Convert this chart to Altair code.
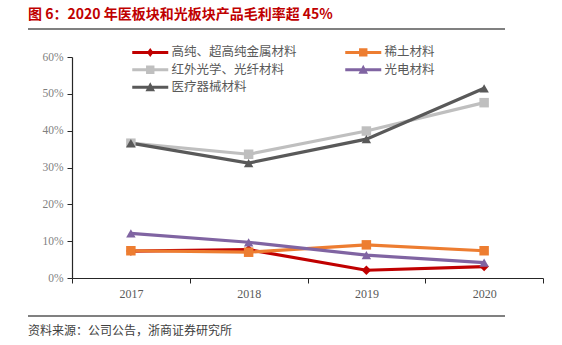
import altair as alt
import pandas as pd

years = ["2017", "2018", "2019", "2020"]
series = ["高纯、超高纯金属材料", "稀土材料", "红外光学、光纤材料", "光电材料", "医疗器械材料"]
gaochun = [0.073, 0.077, 0.021, 0.031]
xitu = [0.074, 0.070, 0.090, 0.074]
hongwai = [0.366, 0.336, 0.399, 0.476]
guangdian = [0.121, 0.097, 0.062, 0.042]
yiliao = [0.366, 0.312, 0.377, 0.515]
values = [gaochun, xitu, hongwai, guangdian, yiliao]

colors = ["#C00000", "#ED7D31", "#BFBFBF", "#8064A2", "#595959"]
shapes = ["diamond", "square", "square", "triangle-up", "triangle-up"]
bar = "M-3,-0.25H3V0.25H-3Z "
legend_shapes = [
    bar + "M0,-0.75L0.55,0L0,0.75L-0.55,0Z",
    bar + "M-0.7,-0.7H0.7V0.7H-0.7Z",
    bar + "M-0.7,-0.7H0.7V0.7H-0.7Z",
    bar + "M0,-0.85L0.8,0.65H-0.8Z",
    bar + "M0,-0.85L0.8,0.65H-0.8Z",
]
# legend is filled column by column: reorder so it reads row by row
legend_order = [0, 2, 4, 1, 3]

title = "图 6：2020 年医板块和光板块产品毛利率超 45%"
source = "资料来源：公司公告，浙商证券研究所"
divider_names = ["top", "bottom"]

rows = []
for s, vals in zip(series, values):
    for y, v in zip(years, vals):
        rows.append({"year": y, "series": s, "value": v})
df = pd.DataFrame(rows)

x_enc = alt.X(
    "year:N",
    title=None,
    scale=alt.Scale(paddingInner=0, paddingOuter=0),
    axis=alt.Axis(
        labelAngle=0, tickBand="extent", labelFont="Liberation Serif",
        labelFontSize=12, labelColor="#595959", labelPadding=5,
        tickSize=5, domainColor="#262626", tickColor="#262626", domainWidth=1.2,
    ),
)
y_enc = alt.Y(
    "value:Q",
    title=None,
    scale=alt.Scale(domain=[0, 0.6]),
    axis=alt.Axis(
        format=".0%", values=[0, 0.1, 0.2, 0.3, 0.4, 0.5, 0.6], grid=False,
        labelFont="Liberation Serif", labelFontSize=11.5, labelColor="#7F7F7F",
        labelPadding=4, tickSize=5, domainColor="#262626", tickColor="#262626",
        domainWidth=1.2,
    ),
)
color_scale = alt.Scale(domain=series, range=colors)

base = alt.Chart(df)
lines = base.mark_line(strokeWidth=3.2).encode(
    x=x_enc, y=y_enc,
    color=alt.Color("series:N", scale=color_scale, legend=None, sort=series),
    detail="series:N",
)
points = base.mark_point(filled=True, opacity=1).encode(
    x=x_enc, y=y_enc,
    color=alt.Color("series:N", scale=color_scale, legend=None, sort=series),
    shape=alt.Shape("series:N", scale=alt.Scale(domain=series, range=shapes), legend=None),
    size=alt.value(90),
)
leg_domain = [series[i] for i in legend_order]
legend_layer = base.transform_filter("false").mark_point(filled=True, opacity=1).encode(
    x=x_enc, y=y_enc,
    color=alt.Color("series:N",
                    scale=alt.Scale(domain=leg_domain, range=[colors[i] for i in legend_order]),
                    title=None, legend=alt.Legend(title=None)),
    shape=alt.Shape("series:N",
                    scale=alt.Scale(domain=leg_domain, range=[legend_shapes[i] for i in legend_order]),
                    title=None, legend=alt.Legend(title=None)),
)

# decorative dividers: horizontal ticks (no x2 needed) plus rules at the same place
tick_top = alt.Chart(pd.DataFrame({"d": [divider_names[0]]})).mark_tick(
    orient="horizontal", color="#808080", thickness=1.8, opacity=1
).encode(detail="d:N", x=alt.value(194.5), y=alt.value(-28), size=alt.value(477))
tick_bot = alt.Chart(pd.DataFrame({"d": [divider_names[1]]})).mark_tick(
    orient="horizontal", color="#808080", thickness=1.8, opacity=1
).encode(detail="d:N", x=alt.value(194.5), y=alt.value(259), size=alt.value(477))
rule_top = alt.Chart(pd.DataFrame({"d": [divider_names[0]]})).mark_rule(
    color="#808080", strokeWidth=1.8
).encode(detail="d:N", x=alt.value(-44), x2=alt.value(433), y=alt.value(-28))
rule_bot = alt.Chart(pd.DataFrame({"d": [divider_names[1]]})).mark_rule(
    color="#808080", strokeWidth=1.8
).encode(detail="d:N", x=alt.value(-44), x2=alt.value(433), y=alt.value(259))

src = alt.Chart(pd.DataFrame({"t": [source]})).mark_text(
    align="left", baseline="middle", font="Noto Sans CJK SC", fontSize=12, color="#404040"
).encode(text="t:N", x=alt.value(-44), y=alt.value(274))
ttl = alt.Chart(pd.DataFrame({"t": [title]})).mark_text(
    align="left", baseline="middle", font="Noto Sans CJK SC", fontSize=14,
    fontWeight="bold", color="#C00000"
).encode(text="t:N", x=alt.value(-44), y=alt.value(-42))

chart = alt.layer(
    lines, points, legend_layer, src, ttl, rule_top, rule_bot, tick_top, tick_bot
).resolve_scale(
    color="independent", shape="independent"
).properties(
    width=471, height=221,
    autosize=alt.AutoSizeParams(type="none"),
    padding={"left": 72, "top": 57, "right": 19, "bottom": 67},
).configure_view(stroke=None).configure_legend(
    orient="none", legendX=72, legendY=-11, columns=2, columnPadding=48,
    rowPadding=4.5, symbolSize=144, labelFont="Noto Sans CJK SC", labelFontSize=12.5,
    labelColor="#595959", labelOffset=15, symbolStrokeWidth=0,
)

chart.save("out.html", embed_options={"renderer": "svg", "actions": False})
